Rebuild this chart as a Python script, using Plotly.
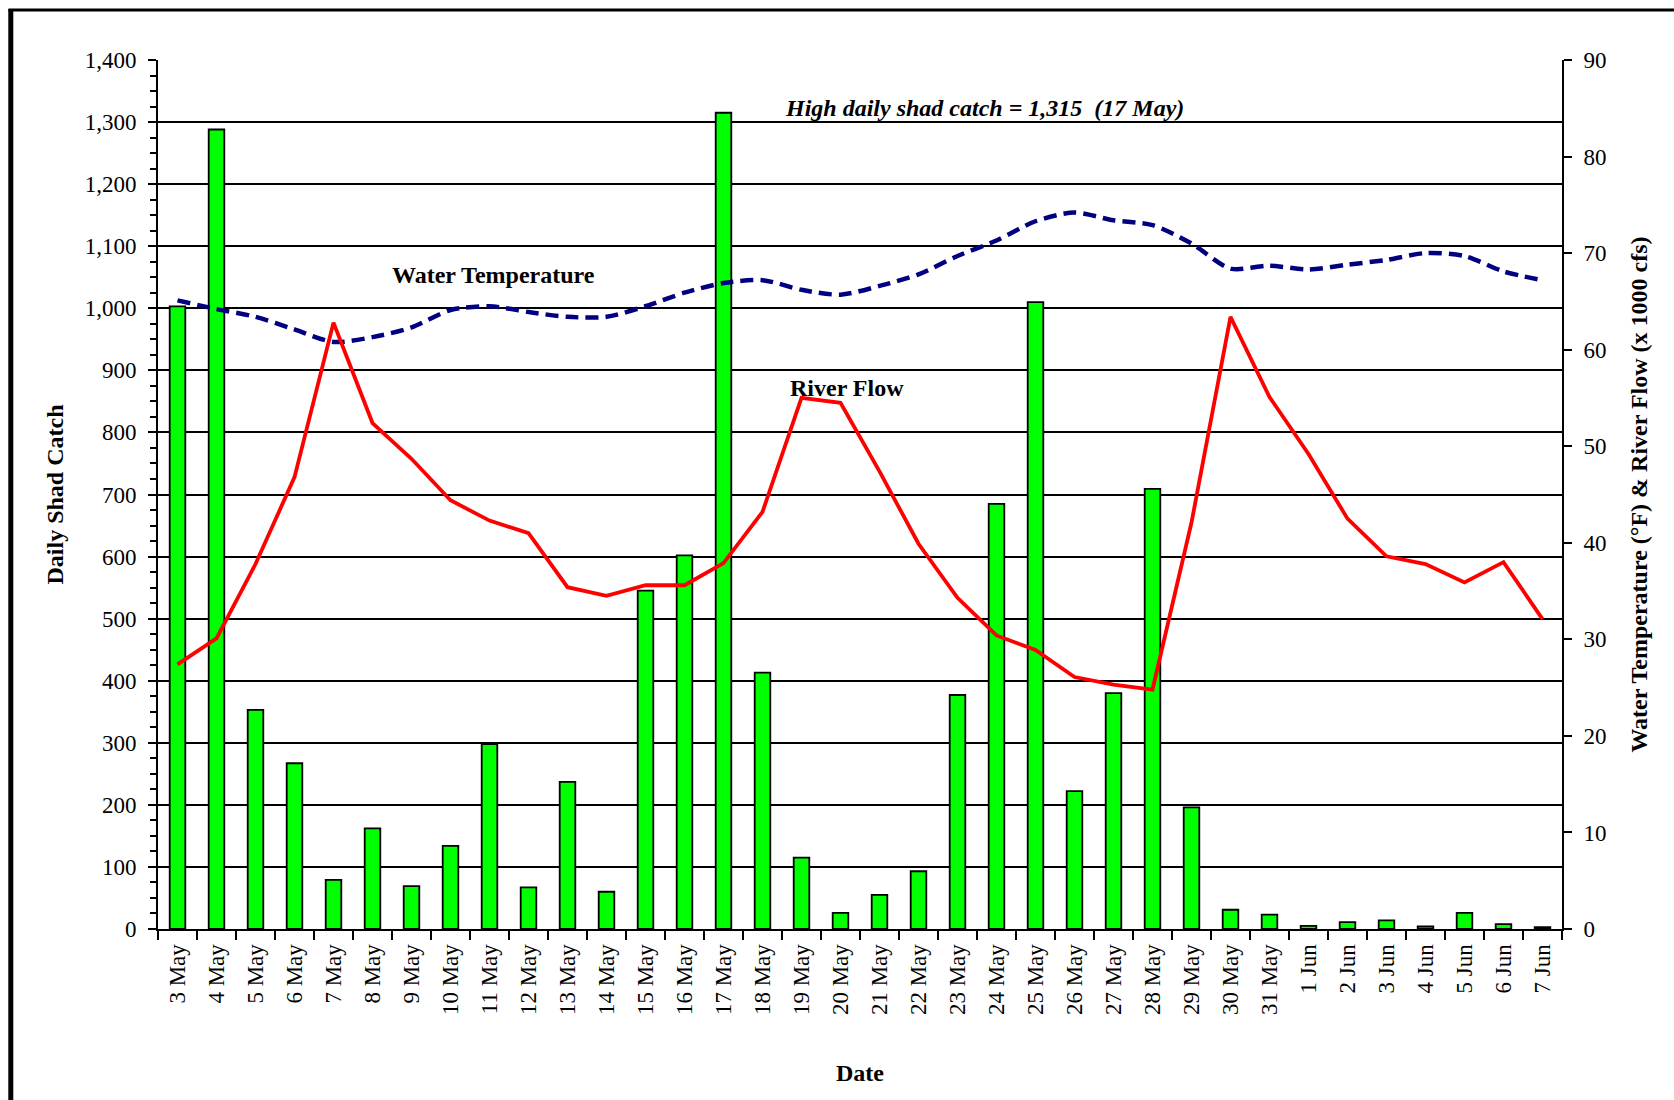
import plotly.graph_objects as go

dates = ["3 May", "4 May", "5 May", "6 May", "7 May", "8 May", "9 May", "10 May",
         "11 May", "12 May", "13 May", "14 May", "15 May", "16 May", "17 May", "18 May",
         "19 May", "20 May", "21 May", "22 May", "23 May", "24 May", "25 May", "26 May",
         "27 May", "28 May", "29 May", "30 May", "31 May", "1 Jun", "2 Jun", "3 Jun",
         "4 Jun", "5 Jun", "6 Jun", "7 Jun"]

shad_catch = [1003, 1288, 353, 267, 79, 162, 69, 134, 298, 67, 237, 60, 545, 602,
              1315, 413, 115, 26, 55, 93, 377, 685, 1010, 222, 380, 709, 196, 31,
              23, 5, 11, 14, 4, 26, 8, 3]

water_temp = [65.1, 64.2, 63.4, 62.1, 60.8, 61.3, 62.3, 64.1, 64.5, 63.9, 63.4, 63.4,
              64.5, 65.9, 66.9, 67.2, 66.2, 65.7, 66.6, 67.8, 69.7, 71.3, 73.3, 74.2,
              73.4, 72.9, 71.0, 68.4, 68.7, 68.3, 68.8, 69.3, 70.0, 69.7, 68.1, 67.2]

river_flow = [27.4, 30.1, 37.8, 46.8, 62.8, 52.4, 48.7, 44.4, 42.3, 41.0, 35.4, 34.5,
              35.6, 35.6, 37.9, 43.2, 55.0, 54.5, 47.4, 39.9, 34.3, 30.4, 28.9, 26.1,
              25.3, 24.8, 42.1, 63.4, 55.1, 49.2, 42.5, 38.6, 37.8, 35.9, 38.0, 32.1]

left_ticks = list(range(0, 1401, 100))
right_ticks = list(range(0, 91, 10))

FONT = "Liberation Serif"
FS = 23
FT = 24

fig = go.Figure()
fig.add_trace(go.Bar(
    x=dates, y=shad_catch, name="Daily Shad Catch",
    marker=dict(color="#00FF00", line=dict(color="black", width=1.8)),
    yaxis="y",
))
fig.add_trace(go.Scatter(
    x=dates, y=water_temp, name="Water Temperature", mode="lines",
    line=dict(color="#000080", width=4.5, dash="13px,7px", shape="spline", smoothing=0.8),
    yaxis="y2",
))
fig.add_trace(go.Scatter(
    x=dates, y=river_flow, name="River Flow", mode="lines",
    line=dict(color="#FF0000", width=3.8),
    yaxis="y2",
))

L, R, T, B = 158, 112, 60, 171
W, H = 1674, 1100
pw, ph = W - L - R, H - T - B

def px(x):
    return (x - L) / pw

def py(y):
    return (H - B - y) / ph

fig.update_layout(
    width=W, height=H,
    margin=dict(l=L, r=R, t=T, b=B, autoexpand=False),
    paper_bgcolor="white", plot_bgcolor="white",
    showlegend=False,
    bargap=0.6,
    font=dict(family=FONT, size=FS, color="black"),
    xaxis=dict(
        type="category", tickson="boundaries", ticks="outside", ticklen=9,
        tickwidth=2, tickcolor="black", showline=True, linecolor="black",
        linewidth=2, tickangle=-90, showgrid=False, ticklabelstandoff=4,
        tickfont=dict(family=FONT, size=FS),
        title=dict(text="<b>Date</b>", font=dict(family=FONT, size=FT), standoff=50),
        automargin=False,
    ),
    yaxis=dict(
        range=[0, 1400], tickvals=left_ticks, tickformat=",",
        ticks="outside", ticklen=8, tickwidth=2, tickcolor="black",
        showline=True, linecolor="black", linewidth=2, ticklabelstandoff=7,
        showgrid=True, gridcolor="black", gridwidth=2, zeroline=False,
        minor=dict(dtick=25, ticks="outside", ticklen=6, tickwidth=1.5,
                   tickcolor="black", showgrid=False),
        tickfont=dict(family=FONT, size=FS),
        title=dict(text="<b>Daily Shad Catch</b>", font=dict(family=FONT, size=FT), standoff=14),
        automargin=False,
    ),
    yaxis2=dict(
        range=[0, 90], tickvals=right_ticks, overlaying="y", side="right",
        ticks="outside", ticklen=8, tickwidth=2, tickcolor="black",
        showline=True, linecolor="black", linewidth=2, ticklabelstandoff=7,
        showgrid=False, zeroline=False,
        tickfont=dict(family=FONT, size=FS),
        title=dict(text="<b>Water Temperature (°F) &amp; River Flow (x 1000 cfs)</b>",
                   font=dict(family=FONT, size=FT), standoff=25),
        automargin=False,
    ),
)

fig.add_annotation(
    xref="paper", yref="paper", x=px(984.5), y=py(108), showarrow=False,
    text="<b><i>High daily shad catch = 1,315  (17 May)</i></b>",
    font=dict(family=FONT, size=FT), xanchor="center", yanchor="middle",
)
fig.add_annotation(
    xref="paper", yref="paper", x=px(493), y=py(275), showarrow=False,
    text="<b>Water Temperature</b>", font=dict(family=FONT, size=FT),
    xanchor="center", yanchor="middle",
)
fig.add_annotation(
    xref="paper", yref="paper", x=px(846.5), y=py(388), showarrow=False,
    text="<b>River Flow</b>", font=dict(family=FONT, size=FT),
    xanchor="center", yanchor="middle",
)

# outer frame (left and top edges visible in the reference)
fig.add_shape(type="line", xref="paper", yref="paper",
              x0=px(10.8), x1=px(10.8), y0=py(9), y1=py(1110),
              line=dict(color="black", width=5))
fig.add_shape(type="line", xref="paper", yref="paper",
              x0=px(8.5), x1=px(1680), y0=py(10), y1=py(10),
              line=dict(color="black", width=3))

fig.write_html("out.html",
               config={"displayModeBar": False},
               post_script="document.body.style.margin='0';document.body.style.overflow='hidden';")
